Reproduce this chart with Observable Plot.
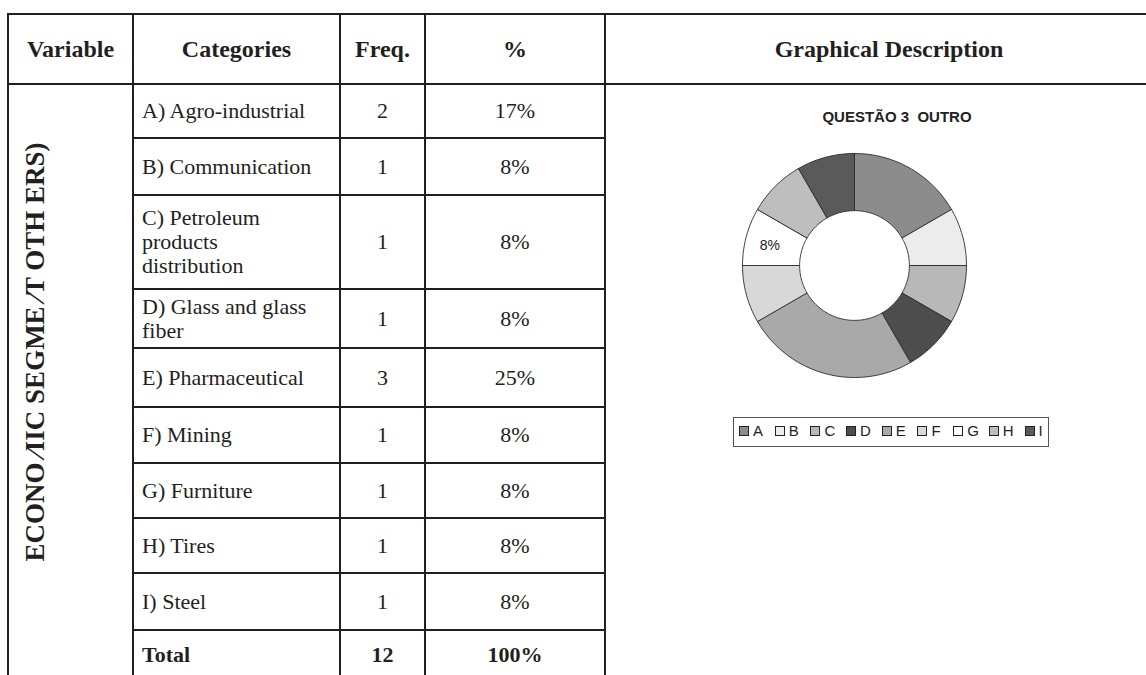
<!DOCTYPE html>
<html><head><meta charset="utf-8">
<script src="https://cdn.jsdelivr.net/npm/d3@7"></script>
<script src="https://cdn.jsdelivr.net/npm/@observablehq/plot@0.6"></script>
<style>
html,body{margin:0;padding:0;background:#fff;}
#page{position:relative;width:1146px;height:675px;overflow:hidden;background:#fff;}
table{position:absolute;left:7px;top:13px;width:1164px;border-collapse:collapse;table-layout:fixed;
  font-family:"Liberation Serif","Times New Roman",serif;color:#231f20;}
td,th{border:2px solid #231f20;padding:0;font-size:22px;vertical-align:middle;}
th{font-weight:bold;font-size:24px;text-align:center;}
th:last-child{border-right:none;}
td.cat{text-align:left;padding-left:8px;white-space:pre-line;line-height:1.08;}
td.num{text-align:center;}
td.total{font-weight:bold;}
td.graph{border-bottom:none;border-right:none;}
td.var{border-bottom:none;}
#vlabel{position:absolute;left:35px;top:352px;transform:translate(-50%,-50%) rotate(-90deg);
  white-space:pre;font-family:"Liberation Serif","Times New Roman",serif;font-weight:bold;font-size:27px;color:#231f20;}
#ctitle{position:absolute;left:897px;top:116px;transform:translate(-50%,-50%);white-space:pre;
  font-family:"Liberation Sans",Arial,sans-serif;font-weight:bold;font-size:15px;color:#222;}
#donut{position:absolute;left:734px;top:145px;}
#legend{position:absolute;left:733px;top:417px;width:314px;height:28px;border:1px solid #555;
  box-sizing:content-box;display:flex;align-items:flex-start;overflow:hidden;
  font-family:"Liberation Sans",Arial,sans-serif;font-size:15px;color:#222;}
#legend .it{display:flex;align-items:center;width:35.7px;flex:none;margin-top:4px;}
#legend .it:first-child{margin-left:5px;}
#legend .it:last-child{width:auto;}
#legend .sw{width:8px;height:8px;border:1px solid #222;margin-right:4px;flex:none;}
</style></head>
<body><div id="page"></div>
<script>
// ---- data ----
const headers = ["Variable", "Categories", "Freq.", "%", "Graphical Description"];
const variableLabel = "ECONO \u2215IIC SEGME \u2215T OTH ERS)";
const categories = ["A) Agro-industrial", "B) Communication", "C) Petroleum\nproducts\ndistribution",
  "D) Glass and glass\nfiber", "E) Pharmaceutical", "F) Mining", "G) Furniture", "H) Tires", "I) Steel"];
const letters = ["A", "B", "C", "D", "E", "F", "G", "H", "I"];
const freq = [2, 1, 1, 1, 3, 1, 1, 1, 1];
const percents = ["17%", "8%", "8%", "8%", "25%", "8%", "8%", "8%", "8%"];
const totalLabel = "Total";
const totalFreq = "12";
const totalPercent = "100%";
const chartTitle = "QUESTÃO 3  OUTRO";
const labelledSlices = ["G"];
const sliceColors = ["#8c8c8c", "#ececec", "#b8b8b8", "#4d4d4d", "#a9a9a9", "#d8d8d8", "#ffffff", "#bebebe", "#5a5a5a"];

// ---- layout ----
const colW = [125, 207, 85, 180, 567];
const headH = 70;
const rowH = [54, 57, 94, 59, 59, 56, 55, 55, 57, 50];

const page = document.getElementById("page");
const table = document.createElement("table");
const cg = document.createElement("colgroup");
colW.forEach(w => { const c = document.createElement("col"); c.style.width = w + "px"; cg.appendChild(c); });
table.appendChild(cg);
const hr = document.createElement("tr"); hr.style.height = headH + "px";
headers.forEach(h => { const th = document.createElement("th"); th.textContent = h; hr.appendChild(th); });
table.appendChild(hr);
const nRows = categories.length + 1;
for (let i = 0; i < nRows; i++) {
  const tr = document.createElement("tr"); tr.style.height = rowH[i] + "px";
  if (i === 0) {
    const v = document.createElement("td"); v.rowSpan = nRows; v.className = "var"; tr.appendChild(v);
  }
  const isTotal = i === categories.length;
  const c1 = document.createElement("td"); c1.className = "cat" + (isTotal ? " total" : "");
  c1.textContent = isTotal ? totalLabel : categories[i];
  const c2 = document.createElement("td"); c2.className = "num" + (isTotal ? " total" : "");
  c2.textContent = isTotal ? totalFreq : String(freq[i]);
  const c3 = document.createElement("td"); c3.className = "num" + (isTotal ? " total" : "");
  c3.textContent = isTotal ? totalPercent : percents[i];
  tr.append(c1, c2, c3);
  if (i === 0) {
    const g = document.createElement("td"); g.rowSpan = nRows; g.className = "graph"; tr.appendChild(g);
  }
  table.appendChild(tr);
}
page.appendChild(table);

const vl = document.createElement("div"); vl.id = "vlabel"; vl.textContent = variableLabel; page.appendChild(vl);
const ct = document.createElement("div"); ct.id = "ctitle"; ct.textContent = chartTitle; page.appendChild(ct);

// ---- donut via Plot ----
const innerRatio = 0.49;
const total = d3.sum(freq);
const slices = [];
const labels = [];
let acc = 0;
letters.forEach((L, i) => {
  const a0 = acc / total * 2 * Math.PI; acc += freq[i]; const a1 = acc / total * 2 * Math.PI;
  const n = Math.max(2, Math.ceil((a1 - a0) / (Math.PI / 120)));
  const pts = [];
  for (let k = 0; k <= n; k++) { const a = a0 + (a1 - a0) * k / n; pts.push({L, x: Math.sin(a), y: Math.cos(a)}); }
  for (let k = n; k >= 0; k--) { const a = a0 + (a1 - a0) * k / n; pts.push({L, x: innerRatio * Math.sin(a), y: innerRatio * Math.cos(a)}); }
  pts.push({...pts[0]});
  slices.push(...pts);
  if (labelledSlices.includes(L)) {
    const am = (a0 + a1) / 2, rm = (1 + innerRatio) / 2;
    labels.push({L, x: rm * Math.sin(am), y: rm * Math.cos(am), text: percents[i]});
  }
});

const donut = Plot.plot({
  width: 240, height: 240, margin: 0, inset: 8,
  x: {domain: [-1, 1], axis: null},
  y: {domain: [-1, 1], axis: null},
  color: {type: "ordinal", domain: letters, range: sliceColors},
  marks: [
    Plot.line(slices, {x: "x", y: "y", z: "L", fill: "L", stroke: "#2a2a2a", strokeWidth: 0.9, curve: "linear"}),
    Plot.text(labels, {x: "x", y: "y", text: "text", fontSize: 14, fill: "#222",
      fontFamily: "Liberation Sans, Arial, sans-serif", dx: -4, dy: 2})
  ]
});
donut.id = "donut";
page.appendChild(donut);

// ---- legend ----
const color = donut.scale("color");
const lg = document.createElement("div"); lg.id = "legend";
letters.forEach(L => {
  const it = document.createElement("div"); it.className = "it";
  const sw = document.createElement("div"); sw.className = "sw"; sw.style.background = color.apply(L);
  const t = document.createElement("span"); t.textContent = L;
  it.append(sw, t); lg.appendChild(it);
});
page.appendChild(lg);
</script>
</body></html>
